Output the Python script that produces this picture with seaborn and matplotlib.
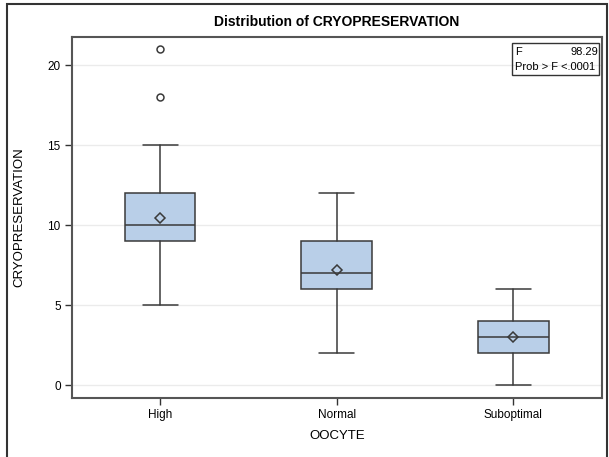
import matplotlib
matplotlib.use("Agg")
import matplotlib.pyplot as plt
from matplotlib.patches import Rectangle
import seaborn as sns

# values
groups = ["High", "Normal", "Suboptimal"]
q1 = [9, 6, 2]
median = [10, 7, 3]
q3 = [12, 9, 4]
whisker_low = [5, 2, 0]
whisker_high = [15, 12, 6]
means = [10.45, 7.2, 3.0]
outliers = [[18, 21], [], []]
f_value = "98.29"
p_value = "<.0001"

sns.set_style("white")
plt.rcParams['font.family'] = ['Liberation Sans', 'DejaVu Sans']
plt.rcParams['text.color'] = 'black'
plt.rcParams['axes.labelcolor'] = 'black'
plt.rcParams['xtick.color'] = 'black'
plt.rcParams['ytick.color'] = 'black'

edge = "#3a3a3a"
fill = "#b9cfe8"

stats = []
for i, g in enumerate(groups):
    stats.append({
        "label": g,
        "q1": q1[i], "med": median[i], "q3": q3[i],
        "whislo": whisker_low[i], "whishi": whisker_high[i],
        "mean": means[i], "fliers": outliers[i],
    })

fig = plt.figure(figsize=(6.09, 4.57), dpi=100)
ax = fig.add_axes([0.118, 0.130, 0.870, 0.788])

ax.bxp(stats, positions=range(len(groups)), widths=0.4, patch_artist=True,
       showmeans=True,
       boxprops=dict(facecolor=fill, edgecolor=edge, linewidth=1.1),
       medianprops=dict(color=edge, linewidth=1.1),
       whiskerprops=dict(color=edge, linewidth=1.1),
       capprops=dict(color=edge, linewidth=1.1),
       capwidths=0.2,
       meanprops=dict(marker="D", markerfacecolor="none", markeredgecolor=edge,
                      markersize=5.5, markeredgewidth=1.1),
       flierprops=dict(marker="o", markerfacecolor="none", markeredgecolor=edge,
                       markersize=5, markeredgewidth=1.1),
       zorder=3)

ax.set_xlim(-0.5, 2.5)
ax.set_ylim(-0.76, 21.75)
ax.set_yticks([0, 5, 10, 15, 20])
ax.set_xticks(range(len(groups)))
ax.set_xticklabels(groups)
ax.yaxis.grid(True, color="#ebebeb", linewidth=1.0, zorder=0)
ax.set_axisbelow(True)
for s in ax.spines.values():
    s.set_color("#555555")
    s.set_linewidth(1.5)
ax.tick_params(axis="both", direction="out", length=5, width=1, color="#333333",
               labelsize=8.5, pad=3, left=True, bottom=True)

ax.set_xlabel("OOCYTE", fontsize=9.5, labelpad=7)
ax.set_ylabel("CRYOPRESERVATION", fontsize=9.5, labelpad=16)
fig.text(0.553, 0.952, "Distribution of CRYOPRESERVATION", ha="center", va="center",
         fontsize=10, fontweight="bold")

# inset with the F statistic
ax.add_patch(Rectangle((0.830, 0.895), 0.164, 0.090, transform=ax.transAxes,
                       fill=False, edgecolor="#333333", linewidth=1.0, zorder=5))
ax.text(0.837, 0.960, "F", transform=ax.transAxes, fontsize=8, va="center", zorder=6)
ax.text(0.993, 0.960, f_value, transform=ax.transAxes, fontsize=8, va="center",
        ha="right", zorder=6)
ax.text(0.837, 0.918, "Prob > F " + p_value, transform=ax.transAxes, fontsize=8,
        va="center", zorder=6)

# outer frame
fig.add_artist(Rectangle((7 / 609, -0.05), 600 / 609, 1.05 - 4 / 457,
                         transform=fig.transFigure, fill=False,
                         edgecolor="#333333", linewidth=1.5, clip_on=False))

fig.savefig("out.png", dpi=100)
